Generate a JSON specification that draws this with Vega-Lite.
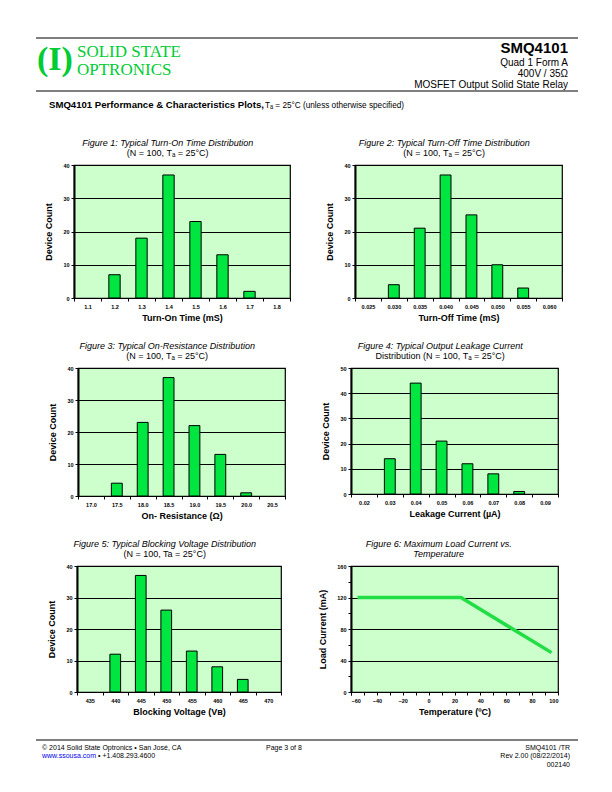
{
  "$schema": "https://vega.github.io/schema/vega-lite/v6.json",
  "padding": {"left": 35, "top": 37, "right": 0, "bottom": 0},
  "background": "white",
  "config": {
    "font": "Liberation Sans",
    "view": {"stroke": null},
    "title": {"fontSize": 9, "fontWeight": "normal", "fontStyle": "italic", "color": "black", "subtitleFontSize": 9, "subtitleColor": "black", "subtitleFontStyle": "normal", "offset": 5, "subtitlePadding": 1, "frame": "bounds", "anchor": "middle"},
    "axis": {"labelFontSize": 5.5, "labelFontWeight": "bold", "labelColor": "black", "titleFontSize": 9, "titleFontWeight": "bold", "titleColor": "black", "domainColor": "black", "tickColor": "black", "tickSize": 3, "gridColor": "black", "gridOpacity": 1, "gridWidth": 1},
    "axisX": {"labelAngle": 0, "grid": false, "tickBand": "extent", "labelPadding": 3, "titlePadding": 4, "domainWidth": 1.2},
    "axisY": {"grid": true, "domainWidth": 2, "labelPadding": 2, "titlePadding": 9}
  },
  "spacing": 28,
  "vconcat": [
    {
      "spacing": 0,
      "vconcat": [
        {
          "hconcat": [
            {
              "width": 40, "height": 1,
              "data": {"values": [{"edge": 1}]},
              "mark": {"type": "rule", "stroke": "black", "strokeWidth": 1.2},
              "encoding": {"y": {"field": "edge", "type": "quantitative", "scale": {"domain": [0, 1]}, "axis": null}},
              "title": {"text": "(I)", "orient": "bottom", "anchor": "start", "frame": "group", "offset": 4, "dx": 1, "font": "Liberation Serif", "fontSize": 34, "fontWeight": "bold", "fontStyle": "normal", "color": "#00cc33"}
            },
            {
              "width": 120, "height": 1,
              "data": {"values": [{"edge": 1}]},
              "mark": {"type": "rule", "stroke": "black", "strokeWidth": 1.2},
              "encoding": {"y": {"field": "edge", "type": "quantitative", "scale": {"domain": [0, 1]}, "axis": null}},
              "title": {"text": "SOLID STATE", "subtitle": "OPTRONICS", "orient": "bottom", "anchor": "start", "frame": "group", "offset": 5, "dx": 1, "font": "Liberation Serif", "fontSize": 17, "fontStyle": "normal", "color": "#00cc33", "subtitleFont": "Liberation Serif", "subtitleFontSize": 17, "subtitleColor": "#00cc33", "subtitlePadding": 1}
            },
            {
              "width": 382, "height": 1,
              "data": {"values": [{"edge": 1}]},
              "mark": {"type": "rule", "stroke": "black", "strokeWidth": 1.2},
              "encoding": {"y": {"field": "edge", "type": "quantitative", "scale": {"domain": [0, 1]}, "axis": null}},
              "title": {"text": "SMQ4101", "subtitle": ["Quad 1 Form A", "400V / 35Ω", "MOSFET Output Solid State Relay"], "orient": "bottom", "anchor": "end", "frame": "group", "offset": 2, "dx": -10, "fontSize": 15, "fontWeight": "bold", "fontStyle": "normal", "subtitleFontSize": 10, "subtitleLineHeight": 11, "subtitlePadding": 2}
            }
          ],
          "spacing": 0, "bounds": "flush", "align": "none"
        },
        {
          "hconcat": [
            {
              "width": 227, "height": 1,
              "data": {"values": [{"edge": 1}]},
              "mark": {"type": "rule", "stroke": "black", "strokeWidth": 1.2},
              "encoding": {"y": {"field": "edge", "type": "quantitative", "scale": {"domain": [0, 1]}, "axis": null}},
              "title": {"text": "SMQ4101 Performance & Characteristics Plots,", "orient": "bottom", "anchor": "start", "frame": "group", "offset": 8, "dx": 13, "fontSize": 9.6, "fontWeight": "bold", "fontStyle": "normal"}
            },
            {
              "width": 315, "height": 1,
              "data": {"values": [{"edge": 1}]},
              "mark": {"type": "rule", "stroke": "black", "strokeWidth": 1.2},
              "encoding": {"y": {"field": "edge", "type": "quantitative", "scale": {"domain": [0, 1]}, "axis": null}},
              "title": {"text": "Tₐ = 25°C (unless otherwise specified)", "orient": "bottom", "anchor": "start", "frame": "group", "offset": 9.5, "dx": 2, "fontSize": 8.2, "fontWeight": "normal", "fontStyle": "normal"}
            }
          ],
          "spacing": 0, "bounds": "flush", "align": "none"
        }
      ]
    },
    {
      "spacing": 21,
      "vconcat": [
        {
          "spacing": 17,
          "vconcat": [
            {
              "spacing": 0, "align": "none",
              "hconcat": [
                {"width": 8, "height": 1, "data": {"values": []}, "mark": "point"},
                {
                  "spacing": 33, "align": "none",
                  "hconcat": [
                    {
                      "width": 216, "height": 133,
                      "view": {"fill": "#ccffcc", "stroke": "black", "strokeWidth": 1.2},
                      "title": {"text": "Figure 1:  Typical Turn-On Time Distribution", "subtitle": "(N = 100, Tₐ = 25°C)"},
                      "data": {"values": [
                        {"bin": "1.2", "count": 7}, {"bin": "1.3", "count": 18}, {"bin": "1.4", "count": 37},
                        {"bin": "1.5", "count": 23}, {"bin": "1.6", "count": 13}, {"bin": "1.7", "count": 2}
                      ]},
                      "mark": {"type": "bar", "fill": "#00e640", "stroke": "black", "strokeWidth": 1, "width": {"band": 0.42}},
                      "encoding": {
                        "x": {"field": "bin", "type": "ordinal", "scale": {"domain": ["1.1","1.2","1.3","1.4","1.5","1.6","1.7","1.8"], "paddingInner": 0, "paddingOuter": 0}, "axis": {"title": "Turn-On Time (mS)"}},
                        "y": {"field": "count", "type": "quantitative", "scale": {"domain": [0, 40], "nice": false}, "axis": {"values": [0, 10, 20, 30, 40], "title": "Device Count"}}
                      }
                    },
                    {
                      "width": 207, "height": 133,
                      "view": {"fill": "#ccffcc", "stroke": "black", "strokeWidth": 1.2},
                      "title": {"text": "Figure 2:  Typical Turn-Off Time Distribution", "subtitle": "(N = 100, Tₐ = 25°C)"},
                      "data": {"values": [
                        {"bin": "0.030", "count": 4}, {"bin": "0.035", "count": 21}, {"bin": "0.040", "count": 37},
                        {"bin": "0.045", "count": 25}, {"bin": "0.050", "count": 10}, {"bin": "0.055", "count": 3}
                      ]},
                      "mark": {"type": "bar", "fill": "#00e640", "stroke": "black", "strokeWidth": 1, "width": {"band": 0.42}},
                      "encoding": {
                        "x": {"field": "bin", "type": "ordinal", "scale": {"domain": ["0.025","0.030","0.035","0.040","0.045","0.050","0.055","0.060"], "paddingInner": 0, "paddingOuter": 0}, "axis": {"title": "Turn-Off Time (mS)"}},
                        "y": {"field": "count", "type": "quantitative", "scale": {"domain": [0, 40], "nice": false}, "axis": {"values": [0, 10, 20, 30, 40], "title": "Device Count"}}
                      }
                    }
                  ]
                }
              ]
            },
            {
              "spacing": 0, "align": "none",
              "hconcat": [
                {"width": 12, "height": 1, "data": {"values": []}, "mark": "point"},
                {
                  "spacing": 34, "align": "none",
                  "hconcat": [
                    {
                      "width": 207, "height": 128,
                      "view": {"fill": "#ccffcc", "stroke": "black", "strokeWidth": 1.2},
                      "title": {"text": "Figure 3:  Typical On-Resistance Distribution", "subtitle": "(N = 100, Tₐ = 25°C)"},
                      "data": {"values": [
                        {"bin": "17.5", "count": 4}, {"bin": "18.0", "count": 23}, {"bin": "18.5", "count": 37},
                        {"bin": "19.0", "count": 22}, {"bin": "19.5", "count": 13}, {"bin": "20.0", "count": 1}
                      ]},
                      "mark": {"type": "bar", "fill": "#00e640", "stroke": "black", "strokeWidth": 1, "width": {"band": 0.42}},
                      "encoding": {
                        "x": {"field": "bin", "type": "ordinal", "scale": {"domain": ["17.0","17.5","18.0","18.5","19.0","19.5","20.0","20.5"], "paddingInner": 0, "paddingOuter": 0}, "axis": {"title": "On- Resistance (Ω)"}},
                        "y": {"field": "count", "type": "quantitative", "scale": {"domain": [0, 40], "nice": false}, "axis": {"values": [0, 10, 20, 30, 40], "title": "Device Count"}}
                      }
                    },
                    {
                      "width": 207, "height": 126,
                      "view": {"fill": "#ccffcc", "stroke": "black", "strokeWidth": 1.2},
                      "title": {"text": "Figure 4:  Typical Output Leakage Current", "subtitle": "Distribution (N = 100, Tₐ = 25°C)"},
                      "data": {"values": [
                        {"bin": "0.03", "count": 14}, {"bin": "0.04", "count": 44}, {"bin": "0.05", "count": 21},
                        {"bin": "0.06", "count": 12}, {"bin": "0.07", "count": 8}, {"bin": "0.08", "count": 1}
                      ]},
                      "mark": {"type": "bar", "fill": "#00e640", "stroke": "black", "strokeWidth": 1, "width": {"band": 0.42}},
                      "encoding": {
                        "x": {"field": "bin", "type": "ordinal", "scale": {"domain": ["0.02","0.03","0.04","0.05","0.06","0.07","0.08","0.09"], "paddingInner": 0, "paddingOuter": 0}, "axis": {"title": "Leakage Current (µA)"}},
                        "y": {"field": "count", "type": "quantitative", "scale": {"domain": [0, 50], "nice": false}, "axis": {"values": [0, 10, 20, 30, 40, 50], "title": "Device Count"}}
                      }
                    }
                  ]
                }
              ]
            },
            {
              "spacing": 0, "align": "none",
              "hconcat": [
                {"width": 11, "height": 1, "data": {"values": []}, "mark": "point"},
                {
                  "spacing": 35, "align": "none",
                  "hconcat": [
                    {
                      "width": 204, "height": 126,
                      "view": {"fill": "#ccffcc", "stroke": "black", "strokeWidth": 1.2},
                      "title": {"text": "Figure 5:  Typical Blocking Voltage Distribution", "subtitle": "(N = 100, Ta = 25°C)"},
                      "data": {"values": [
                        {"bin": "440", "count": 12}, {"bin": "445", "count": 37}, {"bin": "450", "count": 26},
                        {"bin": "455", "count": 13}, {"bin": "460", "count": 8}, {"bin": "465", "count": 4}
                      ]},
                      "mark": {"type": "bar", "fill": "#00e640", "stroke": "black", "strokeWidth": 1, "width": {"band": 0.42}},
                      "encoding": {
                        "x": {"field": "bin", "type": "ordinal", "scale": {"domain": ["435","440","445","450","455","460","465","470"], "paddingInner": 0, "paddingOuter": 0}, "axis": {"title": "Blocking Voltage (Vʙ)"}},
                        "y": {"field": "count", "type": "quantitative", "scale": {"domain": [0, 40], "nice": false}, "axis": {"values": [0, 10, 20, 30, 40], "title": "Device Count"}}
                      }
                    },
                    {
                      "width": 207, "height": 126,
                      "view": {"fill": "#ccffcc", "stroke": "black", "strokeWidth": 1.2},
                      "title": {"text": "Figure 6:  Maximum Load Current vs.", "subtitle": "Temperature", "subtitleFontStyle": "italic"},
                      "data": {"values": [
                        {"temp": -55, "current": 120}, {"temp": 25, "current": 120}, {"temp": 95, "current": 50}
                      ]},
                      "mark": {"type": "line", "stroke": "#22dd44", "strokeWidth": 3.5},
                      "encoding": {
                        "x": {"field": "temp", "type": "quantitative", "scale": {"domain": [-60, 100], "nice": false}, "axis": {"values": [-60,-50,-40,-30,-20,-10,0,10,20,30,40,50,60,70,80,90,100], "labelExpr": "datum.value % 20 == 0 ? datum.label : ''", "title": "Temperature (ºC)"}},
                        "y": {"field": "current", "type": "quantitative", "scale": {"domain": [0, 160], "nice": false}, "axis": {"values": [0,20,40,60,80,100,120,140,160], "labelExpr": "datum.value % 40 == 0 ? datum.label : ''", "gridOpacity": {"condition": {"test": "datum.value % 40 == 0", "value": 1}, "value": 0}, "title": "Load Current (mA)"}}
                      }
                    }
                  ]
                }
              ]
            }
          ]
        },
        {
          "spacing": 0, "bounds": "flush", "align": "none",
          "hconcat": [
            {
              "width": 62, "height": 1,
              "data": {"values": [{"edge": 1}]},
              "mark": {"type": "rule", "stroke": "black", "strokeWidth": 1.2},
              "encoding": {"y": {"field": "edge", "type": "quantitative", "scale": {"domain": [0, 1]}, "axis": null}},
              "title": {"text": "© 2014 Solid State Optronics • San José, CA", "subtitle": "www.ssousa.com", "orient": "bottom", "anchor": "start", "frame": "group", "offset": 3, "dx": 6, "fontSize": 7, "fontStyle": "normal", "subtitleFontSize": 7, "subtitleColor": "#0000ee", "subtitlePadding": 1}
            },
            {
              "width": 168, "height": 1,
              "data": {"values": [{"edge": 1}]},
              "mark": {"type": "rule", "stroke": "black", "strokeWidth": 1.2},
              "encoding": {"y": {"field": "edge", "type": "quantitative", "scale": {"domain": [0, 1]}, "axis": null}},
              "title": {"text": " ", "subtitle": "•  +1.408.293.4600", "orient": "bottom", "anchor": "start", "frame": "group", "offset": 3, "dx": 0, "fontSize": 7, "fontStyle": "normal", "subtitleFontSize": 7, "subtitlePadding": 1}
            },
            {
              "width": 170, "height": 1,
              "data": {"values": [{"edge": 1}]},
              "mark": {"type": "rule", "stroke": "black", "strokeWidth": 1.2},
              "encoding": {"y": {"field": "edge", "type": "quantitative", "scale": {"domain": [0, 1]}, "axis": null}},
              "title": {"text": "Page 3 of 8", "orient": "bottom", "anchor": "start", "frame": "group", "offset": 3, "dx": 0, "fontSize": 7, "fontStyle": "normal"}
            },
            {
              "width": 142, "height": 1,
              "data": {"values": [{"edge": 1}]},
              "mark": {"type": "rule", "stroke": "black", "strokeWidth": 1.2},
              "encoding": {"y": {"field": "edge", "type": "quantitative", "scale": {"domain": [0, 1]}, "axis": null}},
              "title": {"text": "SMQ4101 /TR", "subtitle": ["Rev 2.00 (08/22/2014)", "002140"], "orient": "bottom", "anchor": "end", "frame": "group", "offset": 3, "dx": -8, "fontSize": 7, "fontStyle": "normal", "subtitleFontSize": 7, "subtitlePadding": 1}
            }
          ]
        }
      ]
    }
  ]
}
